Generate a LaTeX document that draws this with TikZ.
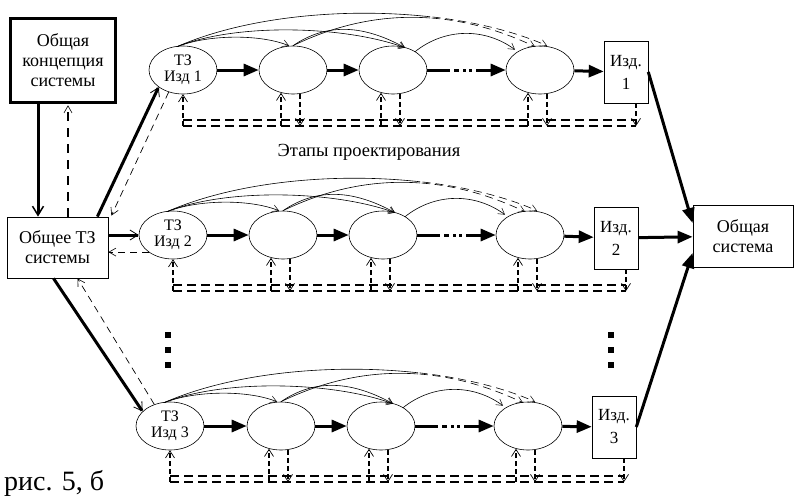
\documentclass[tikz,border=0pt]{standalone}
\usepackage{fontspec}
\setmainfont{Liberation Serif}
\usetikzlibrary{arrows.meta,shapes.geometric,calc}
\begin{document}
\begin{tikzpicture}[x=1pt,y=-1pt,
  stage/.style={ellipse,draw,line width=0.6pt,minimum width=68pt,minimum height=48pt,inner sep=0pt,align=center,font=\fontsize{16}{16}\selectfont},
  prodbox/.style={draw,line width=0.6pt,minimum width=44pt,minimum height=62pt,inner sep=0pt,align=center,font=\fontsize{17}{23}\selectfont},
  bigbox/.style={draw,line width=0.8pt,inner sep=0pt,align=center,font=\fontsize{18}{20}\selectfont},
  mainarr/.style={line width=3pt,-{Triangle[length=15pt,width=12pt]}},
  thickbarb/.style={line width=3pt,-{Straight Barb[length=8pt,width=10pt,line width=0.8pt]}},
  retarr/.style={line width=0.7pt,dash pattern=on 7pt off 5pt,-{Straight Barb[length=7pt,width=8pt,line width=0.6pt]}},
  vdash/.style={line width=1.3pt,dash pattern=on 5pt off 3pt,-{Straight Barb[length=7pt,width=9pt,line width=0.7pt]}},
  dbl/.style={line width=1.6pt,dash pattern=on 9pt off 5pt},
  arcarr/.style={line width=0.6pt,-{Straight Barb[length=6pt,width=7pt,line width=0.5pt]}},
  arcplain/.style={line width=0.6pt},
  arcdash/.style={line width=0.6pt,dash pattern=on 8pt off 5pt,-{Straight Barb[length=6pt,width=7pt,line width=0.5pt]}},
  sq/.style={fill=black,minimum size=6pt,inner sep=0pt},
]
\useasboundingbox (0,0) rectangle (798,499);
\fill[white] (0,0) rectangle (798,499);

\node[bigbox,line width=2.5pt,minimum width=105pt,minimum height=84pt] (C) at (63,60.5) {Общая\\концепция\\системы};
\node[bigbox,minimum width=101pt,minimum height=61pt] (GTZ) at (57.5,247.5) {Общее ТЗ\\системы};
\node[bigbox,minimum width=100pt,minimum height=62pt] (OS) at (743,236) {Общая\\система};

\foreach \r/\cy/\xa/\xb/\xc/\xd/\px/\py in {1/70/183/293/393/540/626/72, 2/235/173/283/383/530/616/238, 3/426/170/281/381/528/614/427}{
  \node[stage] (E\r1) at (\xa,\cy) {ТЗ\\Изд \r};
  \node[stage] (E\r2) at (\xb,\cy) {};
  \node[stage] (E\r3) at (\xc,\cy) {};
  \node[stage] (E\r4) at (\xd,\cy) {};
  \node[prodbox] (P\r) at (\px,\py) {Изд.\\\r};
  % main chain
  \draw[mainarr] (E\r1) -- (E\r2);
  \draw[mainarr] (E\r2) -- (E\r3);
  \draw[mainarr,dash pattern=on 23pt off 4pt on 5pt off 4pt on 3pt off 3pt on 3pt off 4pt on 60pt] (E\r3) -- (E\r4);
  \draw[mainarr] (E\r4) -- (P\r);
  % double feedback line
  \coordinate (U\r) at (\xa,\cy+50);
  \coordinate (D\r) at (\xa,\cy+56);
  \coordinate (Pd\r) at ($(P\r.south)+(10,0)$);
  \draw[dbl] (U\r) -- (Pd\r |- U\r);
  \draw[dbl] (D\r) -- (Pd\r |- D\r);
  \draw[vdash] (D\r) -- (E\r1.south);
  \draw[vdash] (Pd\r) -- (Pd\r |- D\r);
  \foreach \k in {2,3,4}{
    \coordinate (a\r\k) at ($(E\r\k.south)+(-12,-1.5)$);
    \coordinate (b\r\k) at ($(E\r\k.south)+(7,-0.5)$);
    \draw[vdash] (a\r\k |- D\r) -- (a\r\k);
    \draw[vdash] (b\r\k) -- (b\r\k |- D\r);
  }
  % arcs
  \coordinate (sa\r) at ($(E\r1.north)+(-6,1)$);
  \coordinate (sb\r) at (E\r2.north);
  \coordinate (sc\r) at ($(E\r3.north)+(22,6)$);
  \coordinate (tb\r) at ($(E\r2.north)+(-4,0)$);
  \coordinate (tc\r) at ($(E\r3.north)+(12,2)$);
  \coordinate (tda\r) at ($(E\r4.north)+(7,0)$);
  \coordinate (tdb\r) at ($(E\r4.north)+(-5,1)$);
  \coordinate (tdc\r) at ($(E\r4.north)+(-25,4)$);
  \draw[arcarr] (sa\r) .. controls +(30,-12) and +(-30,-12) .. (tb\r);
  \draw[arcarr] (sa\r) .. controls +(60,-24) and +(-60,-22) .. (tc\r);
  \draw[arcarr] (sb\r) .. controls +(35,-24) and +(-40,-22) .. (tc\r);
  \draw[arcarr] (sc\r) .. controls +(30,-24) and +(-30,-22) .. (tdc\r);
  \begin{scope}
    \clip (0,0) rectangle (\xc+37,499);
    \draw[arcplain] (sa\r) .. controls +(100,-44) and +(-100,-44) .. (tda\r);
    \draw[arcplain] (sb\r) .. controls +(80,-39) and +(-80,-38) .. (tdb\r);
  \end{scope}
  \begin{scope}
    \clip (\xc+37,0) rectangle (798,499);
    \draw[arcdash] (sa\r) .. controls +(100,-44) and +(-100,-44) .. (tda\r);
    \draw[arcdash] (sb\r) .. controls +(80,-39) and +(-80,-38) .. (tdb\r);
  \end{scope}
}

% connections from general boxes
\draw[line width=3pt,-{Straight Barb[length=9pt,width=11pt,line width=1.5pt]}] ($(C.south)+(-25,0)$) -- ($(GTZ.north)+(-19.5,0)$);
\draw[line width=1.5pt,dash pattern=on 9pt off 7pt,-{Straight Barb[length=7pt,width=8pt,line width=0.6pt]}] ($(GTZ.north)+(10.5,0)$) -- ($(C.south)+(5,1.5)$);
\draw[thickbarb] ($(GTZ.north east)+(-11,0)$) -- (E11.215);
\draw[retarr] (E11.237) -- ($(GTZ.north east)+(3,-1)$);
\draw[thickbarb] (GTZ.east |- E21) -- (E21);
\draw[retarr] (E21.215) -- (E21.215 -| GTZ.east);
\draw[thickbarb] ($(GTZ.south)+(-4,0)$) -- (E31.152);
\draw[retarr] (E31.126) -- ($(GTZ.south)+(20,0)$);
\draw[mainarr] (P1.east) -- ($(OS.west)+(0,-13)$);
\draw[mainarr] (P2) -- (OS);
\draw[mainarr] (P3.east) -- ($(OS.west)+(0,17)$);

% vertical ellipsis marks
\foreach \i/\yy in {1/335,2/350,3/365}{
  \node[sq] (dl\i) at (168,\yy) {};
  \node[sq] (dr\i) at (611,\yy) {};
}

\node[font=\fontsize{18.5}{18.5}\selectfont] (lbl) at (369,152) {Этапы проектирования};
\node[anchor=base west,font=\fontsize{28}{28}\selectfont,inner sep=0pt] (cap) at (4,490) {рис. 5, б};
\end{tikzpicture}
\end{document}
